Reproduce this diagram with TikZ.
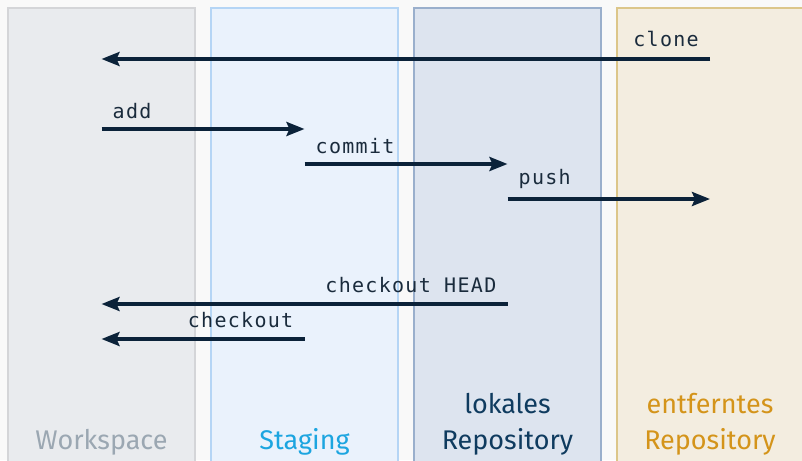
\documentclass[tikz,border=0pt]{standalone}
\usepackage{fontspec}
\setmainfont{Fira Sans}
\newfontfamily\cmdfont[LetterSpace=6.5]{DejaVu Sans Mono}
\usetikzlibrary{arrows.meta}
\definecolor{bgc}{HTML}{F9F9F9}
\definecolor{wsfill}{HTML}{E9EBEE}
\definecolor{wsdraw}{HTML}{D4D5D8}
\definecolor{stfill}{HTML}{EAF2FC}
\definecolor{stdraw}{HTML}{B5D5F5}
\definecolor{lofill}{HTML}{DDE4EF}
\definecolor{lodraw}{HTML}{9AAFCC}
\definecolor{refill}{HTML}{F3EDE0}
\definecolor{redraw}{HTML}{DCC68A}
\definecolor{arrowc}{HTML}{0B2239}
\definecolor{cmdc}{HTML}{1A2B3C}
\definecolor{wstext}{HTML}{9BA7B2}
\definecolor{sttext}{HTML}{1CA5E0}
\definecolor{lotext}{HTML}{0F3B5F}
\definecolor{retext}{HTML}{D4941A}
\tikzset{
  colbox/.style={line width=1.6pt},
  flow/.style={draw=arrowc, line width=3.6pt, -{Stealth[length=18pt,width=14pt,inset=3pt]}},
  cmdlabel/.style={font=\cmdfont\fontsize{20}{24}\selectfont, text=cmdc, inner sep=0pt},
  coltitle/.style={font=\fontsize{27}{36}\selectfont, align=center, inner sep=0pt, anchor=base}
}
\begin{document}
\begin{tikzpicture}[x=1pt,y=-1pt]
\clip (0,0) rectangle (802,460);
\fill[bgc] (0,0) rectangle (802,460);
\draw[colbox, fill=wsfill, draw=wsdraw] (7.8,7.8) rectangle (195.2,480);
\draw[colbox, fill=stfill, draw=stdraw] (210.8,7.8) rectangle (398.2,480);
\draw[colbox, fill=lofill, draw=lodraw] (413.8,7.8) rectangle (601.2,480);
\draw[colbox, fill=refill, draw=redraw] (616.8,7.8) rectangle (820,480);
% column anchors
\coordinate (ws1) at (101.5,59);  \coordinate (re1) at (710,59);
\coordinate (ws2) at (101.5,129); \coordinate (st2) at (304.5,129);
\coordinate (st3) at (304.5,164); \coordinate (lo3) at (507.5,164);
\coordinate (lo4) at (507.5,199); \coordinate (re4) at (710,199);
\coordinate (lo5) at (507.5,304); \coordinate (ws5) at (101.5,304);
\coordinate (st6) at (304.5,339); \coordinate (ws6) at (101.5,339);
\draw[flow] (re1) -- (ws1);
\draw[flow] (ws2) -- (st2);
\draw[flow] (st3) -- (lo3);
\draw[flow] (lo4) -- (re4);
\draw[flow] (lo5) -- (ws5);
\draw[flow] (st6) -- (ws6);
\node[cmdlabel, anchor=base east] (lclone) at ([xshift=-11pt,yshift=12pt]re1) {clone};
\node[cmdlabel, anchor=base west] (ladd) at ([xshift=11pt,yshift=11pt]ws2) {add};
\node[cmdlabel, anchor=base west] (lcommit) at ([xshift=11pt,yshift=11pt]st3) {commit};
\node[cmdlabel, anchor=base west] (lpush) at ([xshift=11pt,yshift=15pt]lo4) {push};
\node[cmdlabel, anchor=base east] (lhead) at ([xshift=-11pt,yshift=12pt]lo5) {checkout HEAD};
\node[cmdlabel, anchor=base east] (lcheckout) at ([xshift=-11pt,yshift=12pt]st6) {checkout};
\node[coltitle, text=wstext] (tws) at (101.5,449) {Workspace};
\node[coltitle, text=sttext] (tst) at (304.5,449) {Staging};
\node[coltitle, text=lotext] (tlo) at (507.5,449) {lokales\\Repository};
\node[coltitle, text=retext] (tre) at (710,449) {entferntes\\Repository};
\end{tikzpicture}
\end{document}
